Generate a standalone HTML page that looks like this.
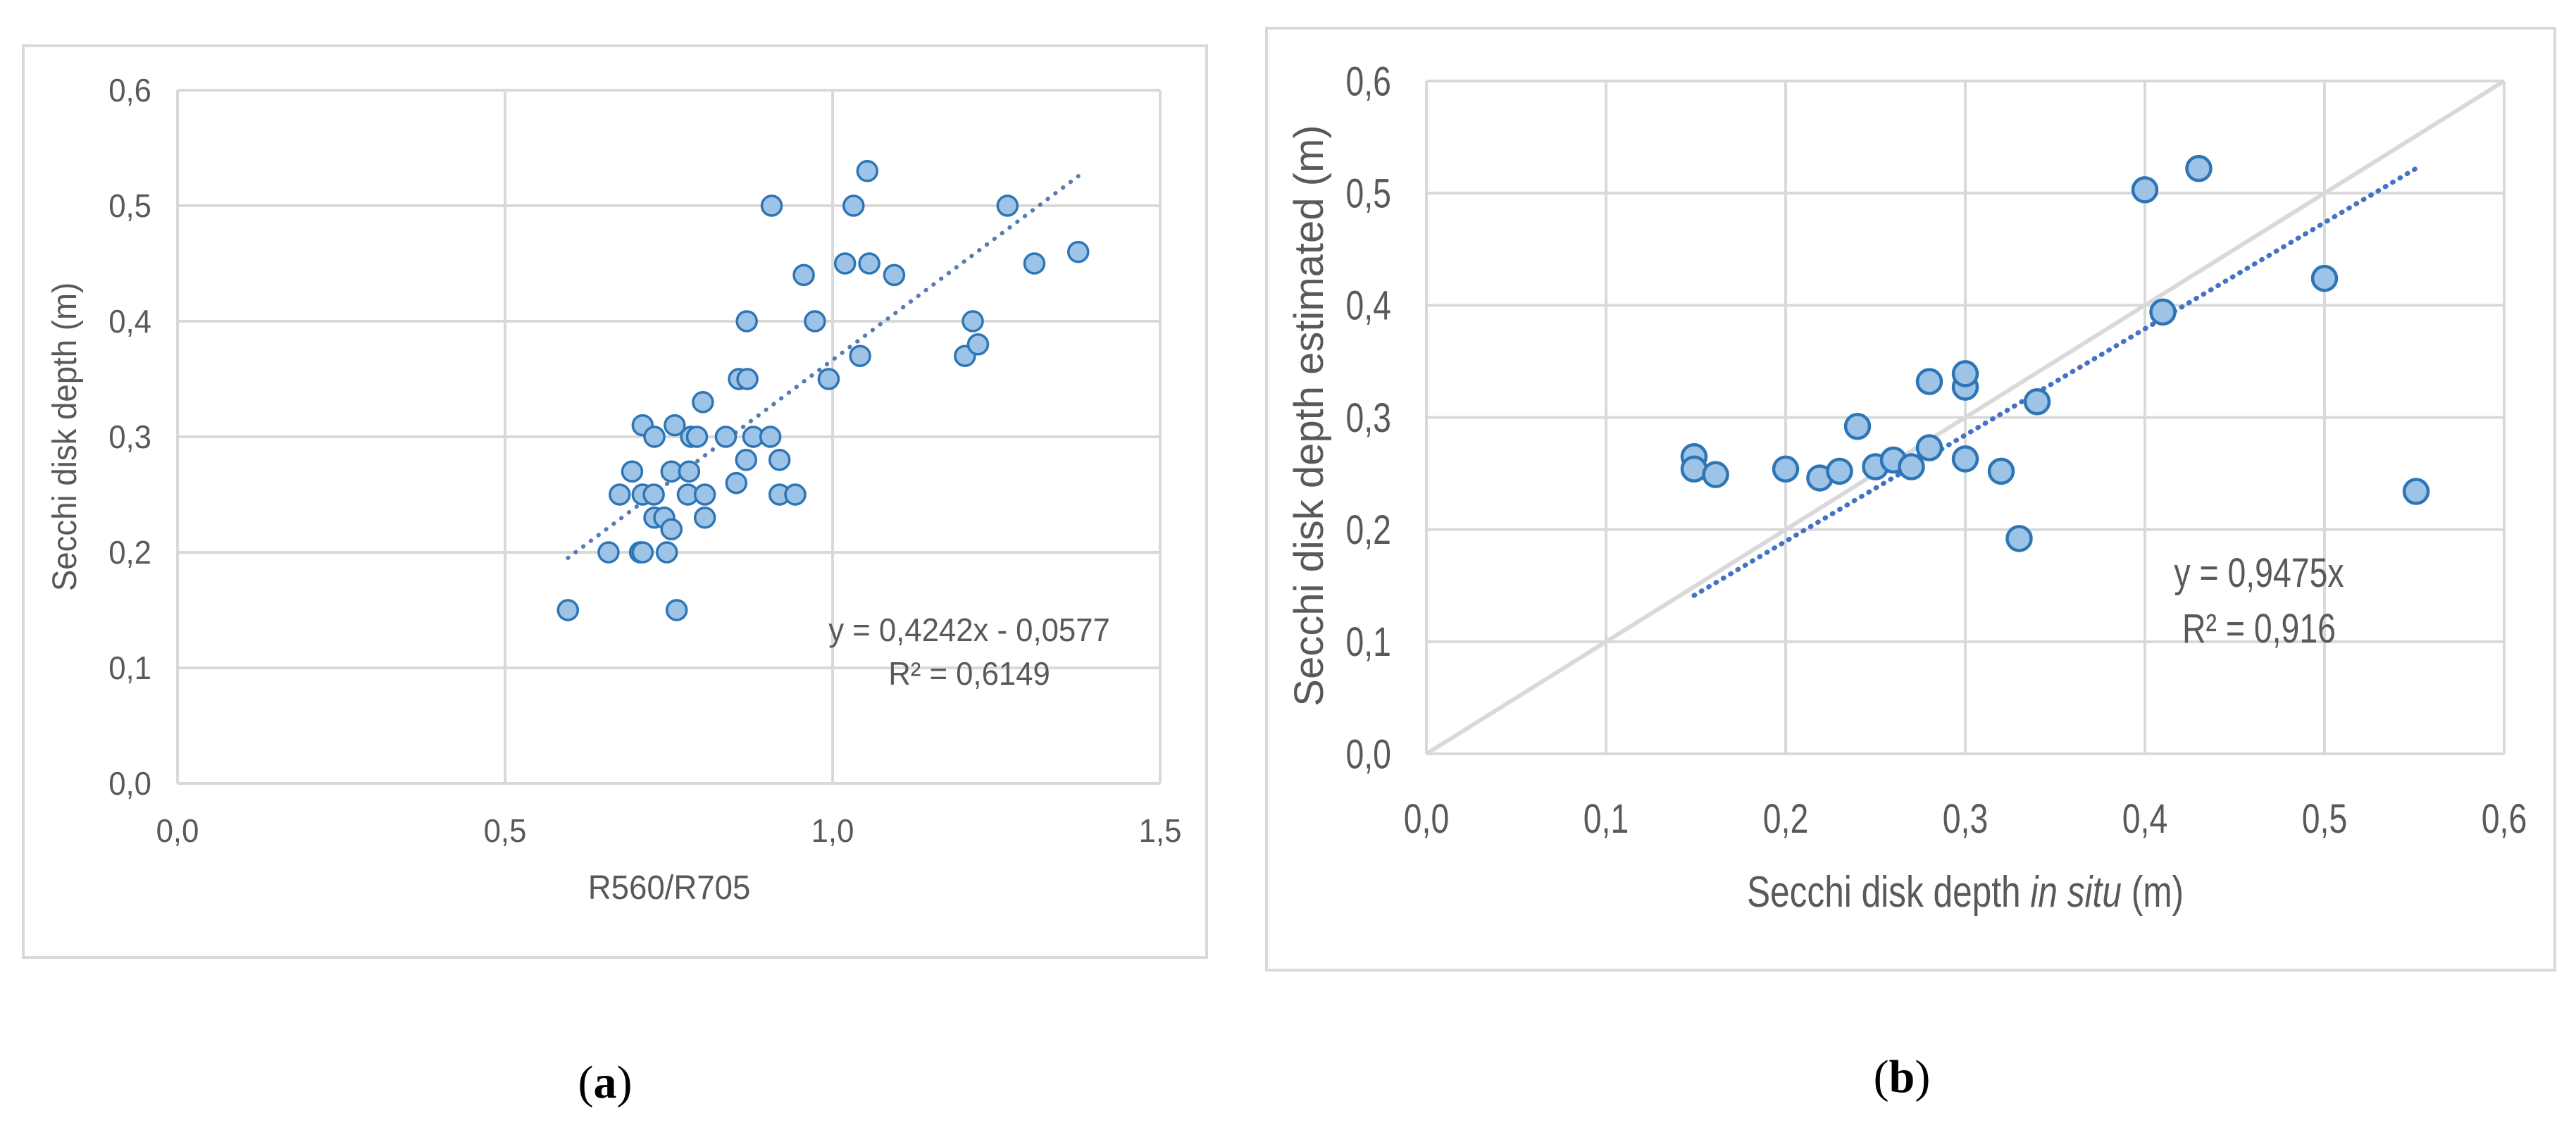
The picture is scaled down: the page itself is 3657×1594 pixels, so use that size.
<!DOCTYPE html>
<html><head><meta charset="utf-8"><style>
html,body{margin:0;padding:0;background:#fff;width:3657px;height:1594px;overflow:hidden}
svg{display:block}
</style></head><body>
<svg id="fig" width="3657" height="1594" xmlns="http://www.w3.org/2000/svg">
<rect x="33" y="65" width="1680" height="1294" fill="#fff" stroke="#d9d9d9" stroke-width="4"/>
<rect x="1798" y="40" width="1829" height="1337" fill="#fff" stroke="#d9d9d9" stroke-width="4"/>
<g id="ca"></g>
<g id="cb"></g>
<text x="859" y="1558" font-family="Liberation Serif, serif" font-size="66" text-anchor="middle" fill="#000">(<tspan font-weight="bold">a</tspan>)</text>
<text x="2700" y="1550" font-family="Liberation Serif, serif" font-size="66" text-anchor="middle" fill="#000">(<tspan font-weight="bold">b</tspan>)</text>
</svg>
<script>
const aX=[0.596,0.658,0.706,0.71,0.747,0.762,0.675,0.694,0.71,0.727,0.71,0.728,0.728,0.743,0.754,0.754,0.759,0.781,0.779,0.784,0.793,0.802,0.805,0.805,0.837,0.853,0.857,0.870,0.869,0.868,0.879,0.905,0.907,0.919,0.919,0.943,0.956,0.973,0.994,1.019,1.032,1.042,1.053,1.056,1.094,1.202,1.214,1.222,1.267,1.308,1.375];
const aY=[0.15,0.20,0.20,0.20,0.20,0.15,0.25,0.27,0.25,0.25,0.31,0.30,0.23,0.23,0.22,0.27,0.31,0.27,0.25,0.30,0.30,0.33,0.25,0.23,0.30,0.26,0.35,0.35,0.40,0.28,0.30,0.30,0.50,0.28,0.25,0.25,0.44,0.40,0.35,0.45,0.50,0.37,0.53,0.45,0.44,0.37,0.40,0.38,0.50,0.45,0.46];
const aXTicks=["0,0","0,5","1,0","1,5"];
const aYTicks=["0,0","0,1","0,2","0,3","0,4","0,5","0,6"];
const aSlope=0.4242, aIntercept=-0.0577;
const bX=[0.149,0.149,0.161,0.2,0.219,0.23,0.24,0.25,0.26,0.27,0.28,0.28,0.30,0.30,0.30,0.32,0.33,0.34,0.40,0.41,0.43,0.50,0.551];
const bY=[0.265,0.254,0.249,0.254,0.246,0.252,0.292,0.256,0.262,0.256,0.273,0.332,0.327,0.339,0.263,0.252,0.192,0.314,0.503,0.394,0.522,0.424,0.234];
const bXTicks=["0,0","0,1","0,2","0,3","0,4","0,5","0,6"];
const bYTicks=["0,0","0,1","0,2","0,3","0,4","0,5","0,6"];
const bSlope=0.9475;

const NS="http://www.w3.org/2000/svg";
function mk(p,tag,at,txt){const e=document.createElementNS(NS,tag);for(const k in at)e.setAttribute(k,at[k]);if(txt!==undefined)e.textContent=txt;p.appendChild(e);return e;}
function txt(p,x,y,s,at,content){
  const a=Object.assign({x:0,y:0,transform:`translate(${x},${y}) scale(${s},1)`},at);
  return mk(p,'text',a,content);
}

function chart(g,o){
  const sx=v=>o.l+(v-o.xmin)/(o.xmax-o.xmin)*(o.r-o.l);
  const sy=v=>o.b-(v-o.ymin)/(o.ymax-o.ymin)*(o.b-o.t);
  o.xt.forEach((lab,i)=>{const v=o.xmin+i*o.xstep;
    const ln=mk(g,'line',{x1:sx(v),x2:sx(v),y1:o.t,y2:o.b,stroke:'#d9d9d9','stroke-width':4});
    
    
    const t=txt(g,sx(v),o.xty,o.sc,{'text-anchor':'middle','font-family':o.font,'font-size':o.fs,fill:'#595959'},lab);
    
    
  });
  o.yt.forEach((lab,i)=>{const v=o.ymin+i*o.ystep;
    const ln=mk(g,'line',{x1:o.l,x2:o.r,y1:sy(v),y2:sy(v),stroke:'#d9d9d9','stroke-width':4});
    
    
    const t=txt(g,o.ytx,sy(v)+o.fs*0.35,o.sc,{'text-anchor':'end','font-family':o.font,'font-size':o.fs,fill:'#595959'},lab);
    
    
  });
  return {sx,sy};
}

const ga=document.getElementById('ca');
const sf='Liberation Sans, sans-serif';
const A=chart(ga,{l:252,r:1647,t:128,b:1112,xmin:0,xmax:1.5,xstep:0.5,ymin:0,ymax:0.6,ystep:0.1,xt:aXTicks,yt:aYTicks,xty:1195,ytx:215,fs:46,font:sf,sc:0.95});
const ax0=Math.min(...aX), ax1=Math.max(...aX);
const ta=mk(ga,'line',{x1:A.sx(ax0),y1:A.sy(aSlope*ax0+aIntercept),x2:A.sx(ax1),y2:A.sy(aSlope*ax1+aIntercept),stroke:'#5a7bb0','stroke-width':6,'stroke-dasharray':'0.5 13','stroke-linecap':'round'});


aX.forEach((x,i)=>{const c=mk(ga,'circle',{cx:A.sx(x),cy:A.sy(aY[i]),r:14,fill:'#9dc3e6',stroke:'#2e75b6','stroke-width':3.5});
  
  });
let t;
t=txt(ga,1376,910,0.95,{'text-anchor':'middle','font-family':sf,'font-size':46,fill:'#595959'},'y = 0,4242x - 0,0577');


t=txt(ga,1376,972,0.95,{'text-anchor':'middle','font-family':sf,'font-size':46,fill:'#595959'},'R² = 0,6149');


t=txt(ga,950,1276,0.95,{'text-anchor':'middle','font-family':sf,'font-size':48,fill:'#595959'},'R560/R705');


t=mk(ga,'text',{x:0,y:0,'text-anchor':'middle','font-family':sf,'font-size':48,fill:'#595959',transform:'translate(108,620) rotate(-90) scale(0.95,1)'},'Secchi disk depth (m)');



const gb=document.getElementById('cb');
const B=chart(gb,{l:2025,r:3555,t:115,b:1070,xmin:0,xmax:0.6,xstep:0.1,ymin:0,ymax:0.6,ystep:0.1,xt:bXTicks,yt:bYTicks,xty:1182,ytx:1975,fs:58,font:sf,sc:0.8});
const d=mk(gb,'line',{x1:B.sx(0),y1:B.sy(0),x2:B.sx(0.6),y2:B.sy(0.6),stroke:'#d9d9d9','stroke-width':6});


const bx0=Math.min(...bX), bx1=Math.max(...bX);
const tb=mk(gb,'line',{x1:B.sx(bx0),y1:B.sy(bSlope*bx0),x2:B.sx(bx1),y2:B.sy(bSlope*bx1),stroke:'#4472c4','stroke-width':7,'stroke-dasharray':'1 11','stroke-linecap':'round'});


bX.forEach((x,i)=>{const c=mk(gb,'circle',{cx:B.sx(x),cy:B.sy(bY[i]),r:17,fill:'#9dc3e6',stroke:'#2e75b6','stroke-width':4.5});
  
  });
t=txt(gb,3207,833,0.8,{'text-anchor':'middle','font-family':sf,'font-size':58,fill:'#595959'},'y = 0,9475x');


t=txt(gb,3207,912,0.8,{'text-anchor':'middle','font-family':sf,'font-size':58,fill:'#595959'},'R² = 0,916');


t=txt(gb,2790,1287,0.8,{'text-anchor':'middle','font-family':sf,'font-size':62,fill:'#595959'});


mk(t,'tspan',{},'Secchi disk depth ');
mk(t,'tspan',{'font-style':'italic'},'in situ');
mk(t,'tspan',{},' (m)');
t=mk(gb,'text',{x:0,y:0,'text-anchor':'middle','font-family':sf,'font-size':58,fill:'#595959',transform:'translate(1878,590) rotate(-90)'},'Secchi disk depth estimated (m)');


</script>
</body></html>
